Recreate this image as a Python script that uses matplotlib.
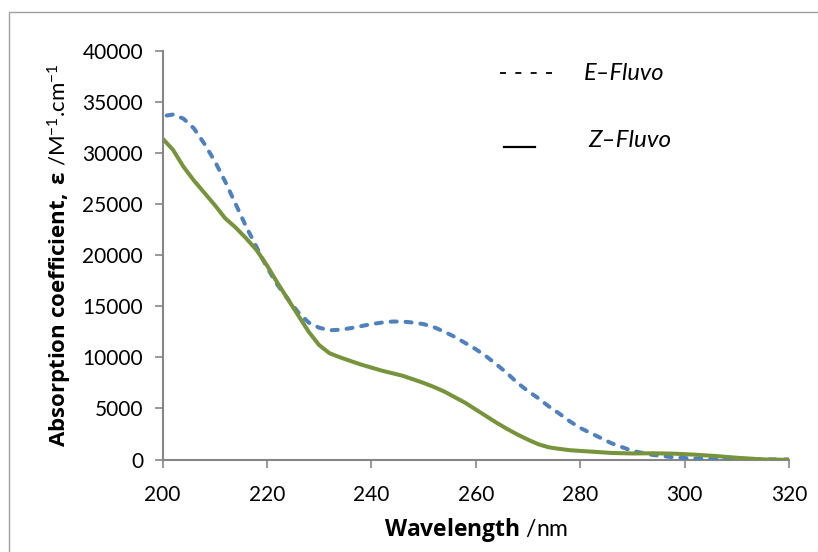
import matplotlib
matplotlib.use("Agg")
import matplotlib.pyplot as plt
from matplotlib.lines import Line2D
from matplotlib.patches import Rectangle

plt.rcParams['font.family'] = ['Lato', 'DejaVu Sans']
plt.rcParams['mathtext.fontset'] = 'custom'
plt.rcParams['mathtext.rm'] = 'Lato'
plt.rcParams['mathtext.bf'] = 'Open Sans:bold'
plt.rcParams['mathtext.it'] = 'Lato:italic'

########## Data

e_wl = [200.8, 202, 204, 206, 208, 210, 212, 214, 216, 218, 220, 222, 224, 226, 228, 230,
        232, 234, 236, 238, 240, 242, 244, 246, 248, 250, 252, 254, 256, 258, 260, 262,
        264, 266, 268, 270, 272, 274, 276, 278, 280, 283, 286, 290, 294, 298, 302, 306,
        310, 315, 320]
e_eps = [33650, 33750, 33350, 32400, 30900, 29200, 27200, 25000, 22800, 20800, 18800, 17100,
         15700, 14400, 13400, 12900, 12650, 12700, 12850, 13050, 13250, 13400, 13500, 13500,
         13400, 13250, 12950, 12500, 12000, 11400, 10800, 10100, 9300, 8450, 7500, 6700, 6000,
         5200, 4500, 3750, 3100, 2350, 1600, 850, 450, 220, 100, 50, 30, 20, 10]

z_wl = [200, 202, 204, 206, 208, 210, 212, 214, 216, 218, 220, 222, 224, 226, 228, 230,
        232, 234, 236, 238, 240, 242, 244, 246, 248, 250, 252, 254, 256, 258, 260, 262,
        264, 266, 268, 270, 272, 274, 276, 278, 280, 283, 286, 290, 294, 298, 302, 306,
        310, 315, 320]
z_eps = [31400, 30300, 28650, 27300, 26100, 24900, 23600, 22700, 21650, 20500, 19000, 17300,
         15700, 14100, 12500, 11200, 10400, 10000, 9650, 9300, 9000, 8700, 8450, 8200, 7850,
         7500, 7100, 6650, 6100, 5550, 4900, 4250, 3600, 3000, 2450, 1950, 1500, 1200, 1050,
         920, 850, 750, 650, 600, 620, 580, 480, 350, 180, 20, -30]

x_ticks = [200, 220, 240, 260, 280, 300, 320]
y_ticks = [0, 5000, 10000, 15000, 20000, 25000, 30000, 35000, 40000]

blue = '#4F81BD'
green = '#77933C'
axis_grey = '#868686'

########## Plot

fig = plt.figure(figsize=(8.18, 5.52), dpi=100)
ax = fig.add_axes([0.1987, 0.1674, 0.7658, 0.7409])

ax.plot(e_wl, e_eps, color=blue, lw=2.9, linestyle=(0, (1.5, 2.2)),
        dash_capstyle='round', solid_capstyle='round')
ax.plot(z_wl, z_eps, color=green, lw=2.9, solid_capstyle='round')

ax.set_xlim(200, 320)
ax.set_ylim(0, 40000)
ax.set_xticks(x_ticks)
ax.set_yticks(y_ticks)
ax.tick_params(axis='both', labelsize=15, colors='black', length=6, width=1.2,
               color=axis_grey, direction='out')
ax.tick_params(axis='x', pad=12)
ax.tick_params(axis='y', pad=8)

for side in ['top', 'right']:
    ax.spines[side].set_visible(False)
for side in ['left', 'bottom']:
    ax.spines[side].set_color(axis_grey)
    ax.spines[side].set_linewidth(1.5)
ax.spines['bottom'].set_zorder(0)

ax.set_xlabel(r'$\mathbf{Wavelength}$ /nm', fontsize=16.5, labelpad=8)
ax.set_ylabel(r'$\mathbf{Absorption\ coefficient,\ \varepsilon}$ /M$^{-1}$.cm$^{-1}$',
              fontsize=16, labelpad=6)

## Legend drawn as in the original text boxes
ax.add_line(Line2D([0.538, 0.622], [0.945, 0.945], transform=ax.transAxes, color='black',
                   lw=1.3, linestyle=(0, (3.3, 5.2))))
ax.text(0.673, 0.945, 'E–Fluvo', transform=ax.transAxes, fontsize=17, style='italic',
        va='center', ha='left')
ax.add_line(Line2D([0.545, 0.595], [0.765, 0.765], transform=ax.transAxes, color='black',
                   lw=1.6))
ax.text(0.68, 0.78, 'Z–Fluvo', transform=ax.transAxes, fontsize=17.5, style='italic',
        va='center', ha='left')

## Outer chart frame
fig.patches.append(Rectangle((9 / 818, -0.1), 2, 1.1 - 12 / 552, transform=fig.transFigure,
                             fill=False, edgecolor='#A0A0A0', lw=1.0, clip_on=False))

fig.savefig('out.png', dpi=100)
